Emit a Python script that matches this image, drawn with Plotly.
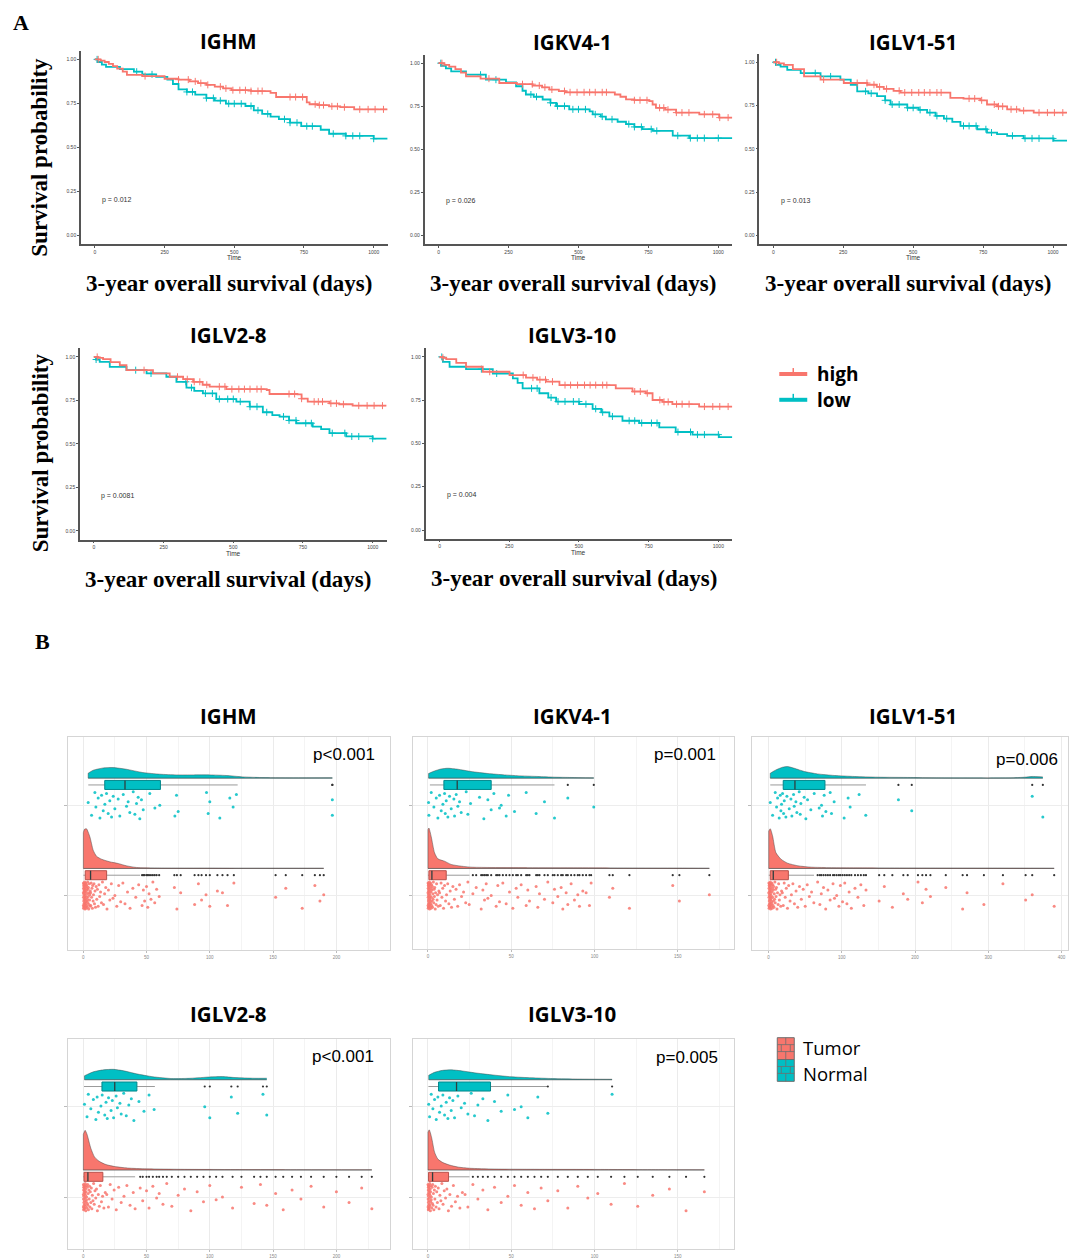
import numpy as np
import plotly.graph_objects as go

W, H = 1069, 1259
RED, TEAL = "#F8766D", "#00BFC4"
SANS, SERIF, TICKF = "Open Sans", "Liberation Serif", "Liberation Sans"

# ------------------------------------------------------------------ data
GENES = ["IGHM", "IGKV4-1", "IGLV1-51", "IGLV2-8", "IGLV3-10"]
SURV_P = ["p = 0.012", "p = 0.026", "p = 0.013", "p = 0.0081", "p = 0.004"]
RAIN_P = ["p<0.001", "p=0.001", "p=0.006", "p<0.001", "p=0.005"]
SURV_TICKS_X = [0, 250, 500, 750, 1000]
SURV_TICKS_Y = [0, 0.25, 0.5, 0.75, 1.0]
SURV_TICKTEXT_Y = ["0.00", "0.25", "0.50", "0.75", "1.00"]

IGHM_HIGH_T = [0, 20, 35, 50, 65, 80, 100, 115, 170, 250, 300, 340, 370, 400, 430, 460, 490, 560, 630, 650, 760, 770, 800, 840, 880, 930, 1050]
IGHM_HIGH_S = [1.0, 0.993, 0.985, 0.975, 0.962, 0.948, 0.93, 0.912, 0.905, 0.89, 0.885, 0.875, 0.865, 0.855, 0.845, 0.835, 0.825, 0.82, 0.81, 0.786, 0.755, 0.745, 0.74, 0.733, 0.728, 0.716, 0.716]
IGHM_LOW_T = [0, 10, 25, 40, 90, 140, 170, 220, 260, 280, 300, 330, 360, 400, 430, 470, 540, 570, 600, 630, 660, 700, 740, 810, 840, 900, 1000, 1050]
IGHM_LOW_S = [1.0, 0.985, 0.97, 0.957, 0.945, 0.93, 0.915, 0.9, 0.885, 0.86, 0.83, 0.815, 0.8, 0.78, 0.765, 0.748, 0.735, 0.71, 0.69, 0.675, 0.66, 0.64, 0.62, 0.6, 0.577, 0.565, 0.549, 0.549]

IGKV_HIGH_T = [0, 20, 38, 60, 80, 98, 150, 217, 280, 336, 370, 396, 430, 455, 630, 650, 670, 700, 753, 765, 777, 810, 849, 932, 1003, 1050]
IGKV_HIGH_S = [1.0, 0.99, 0.98, 0.965, 0.945, 0.923, 0.91, 0.885, 0.878, 0.87, 0.86, 0.847, 0.838, 0.831, 0.818, 0.805, 0.79, 0.785, 0.78, 0.76, 0.741, 0.73, 0.713, 0.703, 0.684, 0.684]
IGKV_LOW_T = [0, 10, 26, 45, 98, 169, 241, 277, 300, 312, 340, 372, 400, 420, 467, 540, 551, 580, 598, 640, 670, 700, 729, 765, 837, 896, 1050]
IGKV_LOW_S = [1.0, 0.985, 0.97, 0.952, 0.933, 0.904, 0.889, 0.866, 0.84, 0.818, 0.805, 0.789, 0.77, 0.751, 0.732, 0.72, 0.703, 0.69, 0.674, 0.66, 0.646, 0.63, 0.617, 0.607, 0.579, 0.565, 0.565]

IGLV151_HIGH_T = [0, 20, 38, 70, 110, 169, 252, 336, 370, 395, 430, 455, 633, 680, 740, 764, 800, 836, 880, 931, 1050]
IGLV151_HIGH_S = [1.0, 0.993, 0.985, 0.96, 0.918, 0.9, 0.88, 0.87, 0.858, 0.846, 0.835, 0.825, 0.794, 0.79, 0.78, 0.756, 0.745, 0.728, 0.72, 0.709, 0.709]
IGLV151_LOW_T = [0, 10, 26, 50, 98, 169, 240, 277, 300, 340, 371, 400, 419, 479, 520, 550, 580, 610, 640, 669, 729, 764, 800, 836, 895, 1002, 1050]
IGLV151_LOW_S = [1.0, 0.985, 0.975, 0.956, 0.937, 0.918, 0.9, 0.87, 0.832, 0.82, 0.804, 0.78, 0.756, 0.737, 0.725, 0.709, 0.69, 0.674, 0.655, 0.632, 0.613, 0.594, 0.585, 0.575, 0.56, 0.547, 0.547]

IGLV28_HIGH_T = [0, 15, 33, 60, 93, 117, 212, 272, 320, 356, 390, 415, 475, 620, 630, 730, 745, 767, 845, 880, 928, 1050]
IGLV28_HIGH_S = [1.0, 0.995, 0.987, 0.97, 0.952, 0.924, 0.905, 0.886, 0.872, 0.857, 0.84, 0.829, 0.815, 0.81, 0.787, 0.785, 0.76, 0.743, 0.733, 0.728, 0.72, 0.72]
IGLV28_LOW_T = [0, 8, 21, 57, 117, 189, 260, 296, 332, 360, 391, 439, 511, 559, 606, 640, 666, 700, 726, 785, 815, 845, 905, 1000, 1050]
IGLV28_LOW_S = [1.0, 0.985, 0.971, 0.943, 0.924, 0.905, 0.886, 0.857, 0.823, 0.805, 0.79, 0.758, 0.743, 0.714, 0.682, 0.665, 0.657, 0.635, 0.619, 0.6, 0.585, 0.562, 0.543, 0.53, 0.53]

IGLV310_HIGH_T = [0, 12, 24, 60, 95, 155, 251, 310, 350, 382, 430, 632, 692, 740, 764, 800, 835, 931, 1050]
IGLV310_HIGH_S = [1.0, 0.995, 0.987, 0.965, 0.943, 0.914, 0.895, 0.88, 0.868, 0.857, 0.837, 0.818, 0.8, 0.79, 0.751, 0.74, 0.727, 0.713, 0.713]
IGLV310_LOW_T = [0, 12, 36, 95, 191, 263, 280, 298, 358, 390, 418, 501, 549, 580, 609, 656, 716, 788, 847, 907, 1002, 1050]
IGLV310_LOW_S = [1.0, 0.971, 0.943, 0.929, 0.904, 0.876, 0.85, 0.818, 0.79, 0.765, 0.742, 0.727, 0.7, 0.68, 0.656, 0.631, 0.618, 0.593, 0.566, 0.551, 0.537, 0.537]

CENSOR_HIGH = [12, 180, 300, 335, 360, 380, 405, 450, 470, 495, 520, 540, 560, 585, 600, 700, 720, 745, 790, 805, 820, 850, 870, 895, 950, 980, 1005, 1035]
CENSOR_LOW = [8, 150, 205, 330, 350, 400, 425, 450, 480, 500, 525, 560, 585, 620, 680, 700, 725, 760, 780, 855, 900, 925, 950, 1000]

# raincloud values (expression) -------------------------------------------
IGHM_NORMAL = [3.9, 6.6, 9.2, 10.0, 11.8, 13.2, 14.5, 15.8, 17.1, 18.4, 19.7, 21.0, 22.4, 23.7, 25.0, 27.6, 28.9, 31.6, 34.2, 35.5, 36.8, 39.5, 40.8, 42.1, 43.4, 44.7, 46.0, 47.4, 52.6, 56.6, 60.5, 72.4, 73.7, 75.0, 97.4, 98.7, 100.0, 107.9, 115.8, 118.4, 121.0, 196.8, 196.8]
IGHM_TUMOR = [0.1, 0.1, 0.2, 0.2, 0.3, 0.3, 0.4, 0.4, 0.5, 0.5, 0.6, 0.6, 0.7, 0.7, 0.8, 0.8, 0.9, 0.9, 1.0, 1.0, 1.1, 1.1, 1.2, 1.2, 1.3, 1.4, 1.4, 1.5, 1.6, 1.6, 1.7, 1.8, 1.9, 2.0, 2.1, 2.2, 2.3, 2.4, 2.5, 2.6, 2.7, 2.8, 2.9, 3.0, 3.1, 3.2, 3.3, 3.4, 3.5, 3.7, 3.8, 4.0, 4.1, 4.3, 4.5, 4.6, 4.8, 5.0, 5.2, 5.4, 5.6, 5.8, 6.0, 6.3, 6.6, 6.9, 7.2, 7.5, 7.8, 8.1, 8.5, 8.9, 9.3, 9.7, 10.2, 10.7, 11.2, 11.8, 12.4, 13.0, 13.7, 14.4, 15.2, 16.0, 16.9, 17.8, 18.8, 19.9, 21.0, 22.2, 23.5, 25.0, 26.5, 28.0, 29.6, 31.3, 33.0, 35.0, 37.0, 39.2, 41.5, 43.8,
              46.5, 47.5, 48.5, 50.0, 51.0, 52.0, 53.5, 55.0, 56.5, 58.0, 60.0, 72.0, 74.0, 77.0, 88.0, 91.0, 93.5, 97.0, 100.0, 106.0, 110.0, 114.0, 119.0, 152.0, 160.0, 173.0, 183.0, 187.0, 190.0]
IGKV_NORMAL = [0.4, 0.6, 2.0, 3.6, 5.0, 6.0, 7.0, 8.0, 9.0, 10.0, 10.4, 11.0, 12.0, 13.0, 14.0, 15.6, 16.0, 17.0, 18.0, 19.0, 20.0, 23.0, 24.0, 25.6, 31.0, 33.6, 36.0, 38.0, 39.6, 43.0, 44.0, 47.0, 48.4, 52.0, 59.0, 65.0, 70.0, 76.0, 84.0, 99.6]
IGKV_TUMOR = [0.05, 0.1, 0.1, 0.15, 0.2, 0.2, 0.25, 0.3, 0.3, 0.35, 0.4, 0.4, 0.45, 0.5, 0.5, 0.55, 0.6, 0.6, 0.65, 0.7, 0.7, 0.8, 0.8, 0.9, 0.9, 1.0, 1.0, 1.1, 1.1, 1.2, 1.3, 1.3, 1.4, 1.5, 1.6, 1.7, 1.8, 1.9, 2.0, 2.1, 2.2, 2.3, 2.4, 2.5, 2.7, 2.8, 3.0, 3.1, 3.3, 3.5, 3.7, 3.9, 4.1, 4.4, 4.6, 4.9, 5.2, 5.5, 5.8, 6.2, 6.6, 7.0, 7.4, 7.9, 8.4, 8.9, 9.4, 10.0, 10.6, 11.2, 11.9, 12.6, 13.4, 14.2, 15.0, 15.9, 16.9, 17.9, 19.0, 20.2, 21.4, 22.7, 24.0, 24.8,
              27, 29, 32, 33, 34, 35, 36, 38, 41, 42, 43, 45, 47, 49, 51, 53, 54, 56, 59, 60, 61, 65, 66, 67, 70, 72, 75, 76, 78, 80, 81, 83, 84, 86, 88, 90, 91, 93, 95, 97, 98, 109, 111, 121, 147, 151, 169]
IGLV151_NORMAL = [2.3, 5.5, 9.1, 10.9, 12.3, 14.5, 15.9, 16.8, 17.7, 19.1, 20.5, 21.4, 23.6, 25.0, 28.2, 30.5, 31.8, 34.1, 35.0, 37.3, 38.6, 41.8, 43.2, 44.1, 48.6, 50.9, 53.2, 57.7, 62.3, 69.1, 72.3, 73.6, 75.9, 78.2, 84.1, 85.9, 89.5, 103.2, 108.6, 111.4, 123.6, 132.7, 177.3, 195.5, 360.0, 374.5]
IGLV151_TUMOR = [0.2, 0.3, 0.4, 0.5, 0.6, 0.7, 0.8, 0.9, 1.0, 1.1, 1.2, 1.3, 1.4, 1.5, 1.6, 1.7, 1.8, 1.9, 2.0, 2.1, 2.2, 2.3, 2.4, 2.6, 2.7, 2.8, 3.0, 3.1, 3.3, 3.4, 3.6, 3.8, 4.0, 4.2, 4.4, 4.6, 4.8, 5.0, 5.2, 5.5, 5.8, 6.1, 6.4, 6.7, 7.0, 7.4, 7.8, 8.2, 8.6, 9.1, 9.6, 10.2, 10.8, 11.5, 12.2, 13.0, 13.8, 14.7, 15.6, 16.6, 17.7, 18.8, 20.0, 21.3, 22.7, 24.2, 25.8, 27.5, 29.3, 31.2, 33.2, 35.3, 37.5, 39.8, 42.2, 44.7, 47.3, 50.0, 52.8, 55.7, 58.7, 61.8,
                 67, 70, 72, 75, 78, 81, 84, 88, 90, 93, 96, 98, 101, 104, 107, 110, 113, 118, 122, 126, 130, 133, 151, 158, 169, 184, 190, 204, 210, 215, 221, 242, 265, 271, 294, 320, 351, 360, 390]
IGLV28_NORMAL = [1, 3, 4, 6, 8, 10, 11, 12, 14, 15, 17, 18, 19, 20, 22, 23, 24, 26, 27, 29, 30, 32, 34, 36, 38, 40, 44, 48, 52, 56, 96, 100, 117, 122, 142, 145]
IGLV28_TUMOR = [0.1, 0.1, 0.2, 0.2, 0.3, 0.3, 0.4, 0.5, 0.5, 0.6, 0.7, 0.7, 0.8, 0.9, 1.0, 1.0, 1.1, 1.2, 1.3, 1.4, 1.5, 1.6, 1.7, 1.8, 1.9, 2.0, 2.1, 2.3, 2.4, 2.6, 2.7, 2.9, 3.1, 3.3, 3.5, 3.7, 3.9, 4.1, 4.4, 4.7, 5.0, 5.3, 5.6, 6.0, 6.4, 6.8, 7.2, 7.7, 8.2, 8.7, 9.3, 9.9, 10.5, 11.2, 11.9, 12.7, 13.5, 14.4, 15.3, 16.3, 17.4, 18.6, 19.9, 21.3, 22.8, 24.4, 26.1, 28.0, 30.0, 32.2, 34.5, 37.0, 39.5, 41.0,
                45, 47, 50, 52, 55, 58, 60, 63, 66, 70, 75, 80, 85, 90, 95, 100, 105, 110, 118, 125, 135, 140, 145, 152, 158, 165, 172, 180, 190, 200, 210, 220, 228]
IGLV310_NORMAL = [0.5, 1, 2, 3, 4, 5, 6, 7, 8, 9, 10, 11, 12, 13, 14, 15, 16, 18, 20, 22, 24, 26, 28, 30, 33, 36, 40, 44, 48, 52, 56, 60, 66, 72, 110.6]
IGLV310_TUMOR = [0.05, 0.1, 0.1, 0.15, 0.2, 0.25, 0.3, 0.3, 0.35, 0.4, 0.45, 0.5, 0.5, 0.6, 0.6, 0.7, 0.7, 0.8, 0.9, 0.9, 1.0, 1.1, 1.2, 1.3, 1.4, 1.5, 1.6, 1.7, 1.8, 2.0, 2.1, 2.3, 2.5, 2.7, 2.9, 3.1, 3.3, 3.6, 3.9, 4.2, 4.5, 4.9, 5.3, 5.7, 6.2, 6.7, 7.2, 7.8, 8.4, 9.1, 9.8, 10.6, 11.4, 12.3, 13.2, 14.2, 15.3, 16.5, 17.8, 19.2, 20.7, 22.3, 24.0,
                 27, 30, 33, 36, 40, 44, 48, 52, 56, 60, 64, 68, 72, 78, 84, 90, 96, 102, 110, 118, 126, 135, 145, 155, 166]

# box stats: [lower whisker, q1, median, q3, upper whisker]
IGHM_NORMAL_BOX = [4, 17, 33, 61, 122]
IGHM_TUMOR_BOX = [0.1, 1.6, 5.8, 18.5, 45]
IGKV_NORMAL_BOX = [1.2, 9.6, 17.6, 38, 76]
IGKV_TUMOR_BOX = [0.05, 0.6, 2.4, 11, 25]
IGLV151_NORMAL_BOX = [2.3, 20, 36, 77, 133]
IGLV151_TUMOR_BOX = [0.2, 2.3, 6.4, 27, 62]
IGLV28_NORMAL_BOX = [0.6, 14.8, 24.9, 42.4, 56.6]
IGLV28_TUMOR_BOX = [0.1, 0.6, 3.7, 15.5, 41]
IGLV310_NORMAL_BOX = [0.3, 6.4, 17.2, 37.6, 71.8]
IGLV310_TUMOR_BOX = [0.05, 0.4, 2.8, 12.4, 25]

# density profiles (x value, relative density)
IGHM_NORMAL_DX = [3.9, 7.9, 15.8, 23.7, 34, 47, 60.5, 73.7, 87, 100, 113, 126, 139, 166, 196.8]
IGHM_NORMAL_DH = [5, 8, 10.3, 10.7, 9, 5.7, 4, 3.3, 3.3, 3.3, 2.7, 1.3, 0.7, 0.4, 0.5]
IGHM_TUMOR_DX = [0.1, 1.0, 2.6, 5.3, 7.9, 10.5, 14.5, 21, 27.6, 34, 42, 60, 80, 100, 120, 150, 170, 190]
IGHM_TUMOR_DH = [36, 39.5, 40, 31.7, 18.3, 12.3, 9.3, 6.7, 5, 2.7, 1, 0.5, 0.4, 0.4, 0.3, 0.3, 0.3, 0.3]
IGKV_NORMAL_DX = [0.4, 4, 8, 12, 18, 26, 36, 46, 56, 66, 76, 86, 99.6]
IGKV_NORMAL_DH = [4.7, 7.3, 9.3, 10, 9, 6.7, 4.7, 3.3, 2.3, 1.7, 1, 0.7, 0.4]
IGKV_TUMOR_DX = [0.05, 0.6, 2, 4, 6, 10, 14, 20, 26, 36, 60, 90, 120, 150, 169]
IGKV_TUMOR_DH = [39, 40.7, 32, 15.7, 9.7, 7.3, 4, 2.3, 1.3, 1, 0.8, 0.7, 0.5, 0.4, 0.3]
IGLV151_NORMAL_DX = [2.3, 10, 19, 26, 35, 49, 67, 90, 117, 149, 194, 240, 330, 350, 360, 374.5]
IGLV151_NORMAL_DH = [5, 8.3, 11, 11.7, 10, 6.7, 4.3, 2.7, 1.7, 1, 0.7, 0.3, 0.3, 1.0, 1.7, 1.3]
IGLV151_TUMOR_DX = [0.2, 2.3, 5.5, 10, 17, 26, 40, 58, 103, 200, 300, 390]
IGLV151_TUMOR_DH = [37.7, 40, 32.7, 16, 9.3, 5.3, 2.7, 1.3, 0.7, 0.5, 0.4, 0.3]
IGLV28_NORMAL_DX = [1, 8, 16, 24, 32, 42, 55, 70, 85, 100, 110, 120, 135, 145]
IGLV28_NORMAL_DH = [4, 8, 10, 10.5, 9, 6, 3, 1.2, 1.5, 2.8, 3.2, 2.2, 1.5, 1.5]
IGLV28_TUMOR_DX = [0.1, 1.5, 3, 6, 9, 13, 18, 25, 35, 50, 80, 120, 160, 200, 228]
IGLV28_TUMOR_DH = [36, 40, 36, 22, 13, 8.5, 5.5, 3.5, 2, 1.2, 0.7, 0.5, 0.4, 0.3, 0.3]
IGLV310_NORMAL_DX = [0.5, 4, 9, 14, 20, 28, 38, 50, 62, 75, 90, 110.6]
IGLV310_NORMAL_DH = [4.5, 7.5, 9.5, 10, 9, 7, 5, 3, 2, 1.2, 0.7, 0.5]
IGLV310_TUMOR_DX = [0.05, 0.8, 2.2, 4, 6, 9, 13, 18, 25, 40, 70, 100, 140, 166]
IGLV310_TUMOR_DH = [38, 40.5, 33, 18, 11, 7.5, 5, 3, 1.8, 1, 0.7, 0.6, 0.4, 0.3]

RAIN_TICKS = [[0, 50, 100, 150, 200], [0, 50, 100, 150], [0, 100, 200, 300, 400],
              [0, 50, 100, 150, 200], [0, 50, 100, 150]]

JITTER = [0.03, -0.11, 0.14, -0.02, 0.08, -0.14, 0.11, -0.06, 0.01, 0.13, -0.09, 0.05, -0.13, 0.10, -0.04,
          0.07, -0.12, 0.12, -0.01, 0.04, -0.08, 0.15, -0.10, 0.02, 0.09, -0.15, 0.06, -0.05, 0.13, -0.03,
          0.00, -0.12, 0.11, -0.07, 0.14, -0.09, 0.04, -0.14, 0.08, -0.02, 0.12, -0.11, 0.06, -0.06, 0.10,
          -0.13, 0.02, -0.04, 0.15, -0.08, 0.07, -0.01, 0.09, -0.15, 0.03, -0.10, 0.13, -0.05, 0.01, -0.12, 0.05]

SURV = [(IGHM_HIGH_T, IGHM_HIGH_S, IGHM_LOW_T, IGHM_LOW_S),
        (IGKV_HIGH_T, IGKV_HIGH_S, IGKV_LOW_T, IGKV_LOW_S),
        (IGLV151_HIGH_T, IGLV151_HIGH_S, IGLV151_LOW_T, IGLV151_LOW_S),
        (IGLV28_HIGH_T, IGLV28_HIGH_S, IGLV28_LOW_T, IGLV28_LOW_S),
        (IGLV310_HIGH_T, IGLV310_HIGH_S, IGLV310_LOW_T, IGLV310_LOW_S)]
RAIN = [(IGHM_NORMAL, IGHM_TUMOR, IGHM_NORMAL_BOX, IGHM_TUMOR_BOX),
        (IGKV_NORMAL, IGKV_TUMOR, IGKV_NORMAL_BOX, IGKV_TUMOR_BOX),
        (IGLV151_NORMAL, IGLV151_TUMOR, IGLV151_NORMAL_BOX, IGLV151_TUMOR_BOX),
        (IGLV28_NORMAL, IGLV28_TUMOR, IGLV28_NORMAL_BOX, IGLV28_TUMOR_BOX),
        (IGLV310_NORMAL, IGLV310_TUMOR, IGLV310_NORMAL_BOX, IGLV310_TUMOR_BOX)]
DENS = [((IGHM_NORMAL_DX, IGHM_NORMAL_DH), (IGHM_TUMOR_DX, IGHM_TUMOR_DH)),
        ((IGKV_NORMAL_DX, IGKV_NORMAL_DH), (IGKV_TUMOR_DX, IGKV_TUMOR_DH)),
        ((IGLV151_NORMAL_DX, IGLV151_NORMAL_DH), (IGLV151_TUMOR_DX, IGLV151_TUMOR_DH)),
        ((IGLV28_NORMAL_DX, IGLV28_NORMAL_DH), (IGLV28_TUMOR_DX, IGLV28_TUMOR_DH)),
        ((IGLV310_NORMAL_DX, IGLV310_NORMAL_DH), (IGLV310_TUMOR_DX, IGLV310_TUMOR_DH))]

# ------------------------------------------------------------------ layout (pixels)
SURV_BOX = [(81, 51, 388, 246), (425, 55, 733, 246), (760, 54, 1068, 246),
            (80, 351, 387, 544), (426, 351, 733, 543)]
RAIN_BOX = [(68, 743, 390, 958), (413, 743, 735, 957), (753, 743, 1069, 958),
            (68, 1047, 390, 1259), (413, 1047, 735, 1259)]
RAIN_X0 = [83.3, 428.3, 769.3, 83.3, 428.3]      # pixel of value 0
RAIN_PPU = [1.267, 1.667, 0.733, 1.267, 1.667]    # pixels per unit
CAT_OFF, CAT_PPU = 68.7, 91.0
DENS_UNIT = 1.0 / CAT_PPU
SURV_TITLE_XY = [(229, 41), (573, 42), (914, 42), (229, 338), (573, 338)]
RAIN_TITLE_XY = [(229, 722), (573, 722), (914, 722), (229, 1022), (573, 1022)]
RAIN_P_XY = [(377, 761), (719, 761), (1061, 766), (376, 1065), (721, 1066)]


def px(x):
    return x / W


def py(y):
    return 1 - y / H


def step_at(t, s, c):
    i = np.searchsorted(t, c, side="right") - 1
    return s[max(i, 0)]


fig = go.Figure()
layout = dict(autosize=True, margin=dict(l=0, r=0, t=0, b=0, pad=0),
              paper_bgcolor="white", plot_bgcolor="white", showlegend=False)
ann, shapes = [], []


def add_ann(text, x, y, size, family=SANS, xanchor="center", yanchor="middle", angle=0,
            color="black", xref="paper", yref="paper"):
    ann.append(dict(text=text, x=x, y=y, xref=xref, yref=yref, showarrow=False,
                    xanchor=xanchor, yanchor=yanchor, textangle=angle,
                    font=dict(family=family, size=size, color=color)))


# ------------------------------------------------------------------ survival panels
for k in range(5):
    ax = k + 1
    xa, ya = f"x{ax}", f"y{ax}"
    l, t, r, b = SURV_BOX[k]
    ht, hs, lt, ls = SURV[k]
    for tt, ss, col, cens in ((lt, ls, TEAL, CENSOR_LOW), (ht, hs, RED, CENSOR_HIGH)):
        fig.add_trace(go.Scatter(x=tt, y=ss, mode="lines", line=dict(color=col, width=1.8, shape="hv"),
                                 xaxis=xa, yaxis=ya, hoverinfo="skip"))
        cy = [step_at(tt, ss, c) for c in cens]
        fig.add_trace(go.Scatter(x=cens, y=cy, mode="markers", xaxis=xa, yaxis=ya, hoverinfo="skip",
                                 marker=dict(symbol="cross-thin", size=5, line=dict(color=col, width=1))))
    axs = dict(showgrid=False, zeroline=False, showline=True, linecolor="#555", linewidth=1.5,
               ticks="outside", ticklen=2, tickwidth=1, tickcolor="#555",
               tickfont=dict(family=TICKF, size=5, color="#444"))
    layout[f"xaxis{ax}"] = dict(axs, domain=[px(l), px(r)], range=[-50, 1050], anchor=ya,
                                tickvals=SURV_TICKS_X)
    layout[f"yaxis{ax}"] = dict(axs, domain=[py(b), py(t)], range=[-0.05, 1.05], anchor=xa,
                                tickvals=SURV_TICKS_Y, ticktext=SURV_TICKTEXT_Y)
    add_ann(SURV_P[k], 20, 0.2, 7, TICKF, xanchor="left", color="#333", xref=xa, yref=ya)
    add_ann("Time", 500, py(b + 14), 6.5, TICKF, color="#333", xref=xa)
    tx, ty = SURV_TITLE_XY[k]
    add_ann(f"<b>{GENES[k]}</b>", px(tx), py(ty), 20.5)
    add_ann("<b>3-year overall survival (days)</b>", px((l + r) / 2 - 5), py(b + 40), 23, SERIF)

add_ann("<b>Survival probability</b>", px(40), py(158), 23, SERIF, angle=-90)
add_ann("<b>Survival probability</b>", px(40), py(456), 23, SERIF, angle=-90)
add_ann("<b>A</b>", px(21), py(23), 22, SERIF)
add_ann("<b>B</b>", px(43), py(647), 22, SERIF)

# legend high / low
for lab, col, yy in (("high", RED, 377), ("low", TEAL, 403)):
    shapes.append(dict(type="line", xref="paper", yref="paper", x0=px(780), x1=px(808),
                       y0=py(yy), y1=py(yy), line=dict(color=col, width=4)))
    shapes.append(dict(type="line", xref="paper", yref="paper", x0=px(794), x1=px(794),
                       y0=py(yy - 6), y1=py(yy + 1), line=dict(color=col, width=1.5)))
    add_ann(f"<b>{lab}</b>", px(816), py(yy), 19, xanchor="left")

# ------------------------------------------------------------------ raincloud panels
for k in range(5):
    ax = k + 6
    xa, ya = f"x{ax}", f"y{ax}"
    l, t, r, b = RAIN_BOX[k]
    x0p, ppu = RAIN_X0[k], RAIN_PPU[k]
    xr = [(l - x0p) / ppu, (r - x0p) / ppu]
    yr = [2 - (b - t - CAT_OFF) / CAT_PPU, 2 + CAT_OFF / CAT_PPU]
    normal, tumor, nbox, tbox = RAIN[k]
    (ndx, ndh), (tdx, tdh) = DENS[k]

    for vals, bx, cat, col, dark, dx, dh in ((normal, nbox, 2, TEAL, "#00878B", ndx, ndh),
                                              (tumor, tbox, 1, RED, "#B8504A", tdx, tdh)):
        base = cat + 0.3
        # half violin: baseline then curve filled to it
        fig.add_trace(go.Scatter(x=[dx[0], dx[-1]], y=[base, base], mode="lines",
                                 line=dict(color="rgba(70,70,70,0.8)", width=0.9),
                                 xaxis=xa, yaxis=ya, hoverinfo="skip"))
        fig.add_trace(go.Scatter(x=dx, y=[base + h * DENS_UNIT for h in dh], mode="lines",
                                 fill="tonexty", fillcolor=col,
                                 line=dict(color="rgba(70,70,70,0.6)", width=0.8, shape="spline", smoothing=0.6),
                                 xaxis=xa, yaxis=ya, hoverinfo="skip"))
        fig.add_trace(go.Scatter(x=[dx[0], dx[0]], y=[base, base + dh[0] * DENS_UNIT], mode="lines",
                                 line=dict(color="rgba(70,70,70,0.6)", width=0.8),
                                 xaxis=xa, yaxis=ya, hoverinfo="skip"))
        # jittered points
        jy = [cat + JITTER[i % len(JITTER)] for i in range(len(vals))]
        fig.add_trace(go.Scatter(x=vals, y=jy, mode="markers", xaxis=xa, yaxis=ya, hoverinfo="skip",
                                 marker=dict(color=col, size=3, opacity=0.85, line=dict(width=0))))
        # box
        lo, q1, med, q3, hi = bx
        by = cat + 0.225
        hh = 0.05
        fig.add_trace(go.Scatter(x=[lo, q1, None, q3, hi], y=[by, by, None, by, by], mode="lines",
                                 line=dict(color="#9A9A9A", width=1), xaxis=xa, yaxis=ya, hoverinfo="skip"))
        fig.add_trace(go.Scatter(x=[q1, q3, q3, q1, q1], y=[by - hh, by - hh, by + hh, by + hh, by - hh],
                                 mode="lines", fill="toself", fillcolor=col, line=dict(color=dark, width=1),
                                 xaxis=xa, yaxis=ya, hoverinfo="skip"))
        fig.add_trace(go.Scatter(x=[med, med], y=[by - hh, by + hh], mode="lines",
                                 line=dict(color="#2F3F3F", width=1.3), xaxis=xa, yaxis=ya, hoverinfo="skip"))
        outl = [v for v in vals if v > hi]
        fig.add_trace(go.Scatter(x=outl, y=[by] * len(outl), mode="markers", xaxis=xa, yaxis=ya,
                                 hoverinfo="skip", marker=dict(color="#333333", size=2.2, line=dict(width=0))))

    step = RAIN_TICKS[k][1] - RAIN_TICKS[k][0]
    layout[f"xaxis{ax}"] = dict(domain=[px(l), px(r)], range=xr, anchor=ya, tickvals=RAIN_TICKS[k],
                                showgrid=True, gridcolor="#EBEBEB", gridwidth=1, zeroline=False,
                                minor=dict(showgrid=True, gridcolor="#F4F4F4", gridwidth=0.8,
                                           tickvals=[v + step / 2 for v in RAIN_TICKS[k]]),
                                showline=True, mirror=True, linecolor="#D5D5D5", linewidth=1.2,
                                ticks="outside", ticklen=2, tickcolor="#BBBBBB",
                                tickfont=dict(family=TICKF, size=4.5, color="#888"))
    layout[f"yaxis{ax}"] = dict(domain=[py(b), py(t)], range=yr, anchor=xa, tickvals=[1, 2],
                                showticklabels=False, showgrid=True, gridcolor="#EDEDED", zeroline=False,
                                showline=True, mirror=True, linecolor="#D5D5D5", linewidth=1.2,
                                ticks="outside", ticklen=3, tickcolor="#BBBBBB")
    tx, ty = RAIN_TITLE_XY[k]
    add_ann(f"<b>{GENES[k]}</b>", px(tx), py(ty), 20.5)
    pxp, pyp = RAIN_P_XY[k]
    add_ann(RAIN_P[k], px(pxp), py(pyp), 17, TICKF, xanchor="right")

# legend Tumor / Normal
for lab, col, yt, ytxt in (("Tumor", RED, 1046, 1056), ("Normal", TEAL, 1068, 1082)):
    shapes.append(dict(type="rect", xref="paper", yref="paper", x0=px(778), x1=px(795),
                       y0=py(yt + 22), y1=py(yt), fillcolor=col, line=dict(color="#6E6E6E", width=1)))
    for yy in (yt + 7, yt + 14):
        shapes.append(dict(type="line", xref="paper", yref="paper", x0=px(778), x1=px(795),
                           y0=py(yy), y1=py(yy), line=dict(color="#6E6E6E", width=0.8)))
    for xx, y0, y1 in ((786.5, yt, yt + 7), (782, yt + 7, yt + 14), (791, yt + 7, yt + 14), (786.5, yt + 14, yt + 22)):
        shapes.append(dict(type="line", xref="paper", yref="paper", x0=px(xx), x1=px(xx),
                           y0=py(y0), y1=py(y1), line=dict(color="#6E6E6E", width=0.8)))
    add_ann(lab, px(802), py(ytxt), 18.5, xanchor="left")

layout["annotations"] = ann
layout["shapes"] = shapes
fig.update_layout(**layout)
fig.write_html("out.html", config={"displayModeBar": False, "responsive": True},
               default_width="100vw", default_height="100vh",
               post_script="document.body.style.margin='0';document.body.style.overflow='hidden';"
                           "document.documentElement.style.overflow='hidden';")
